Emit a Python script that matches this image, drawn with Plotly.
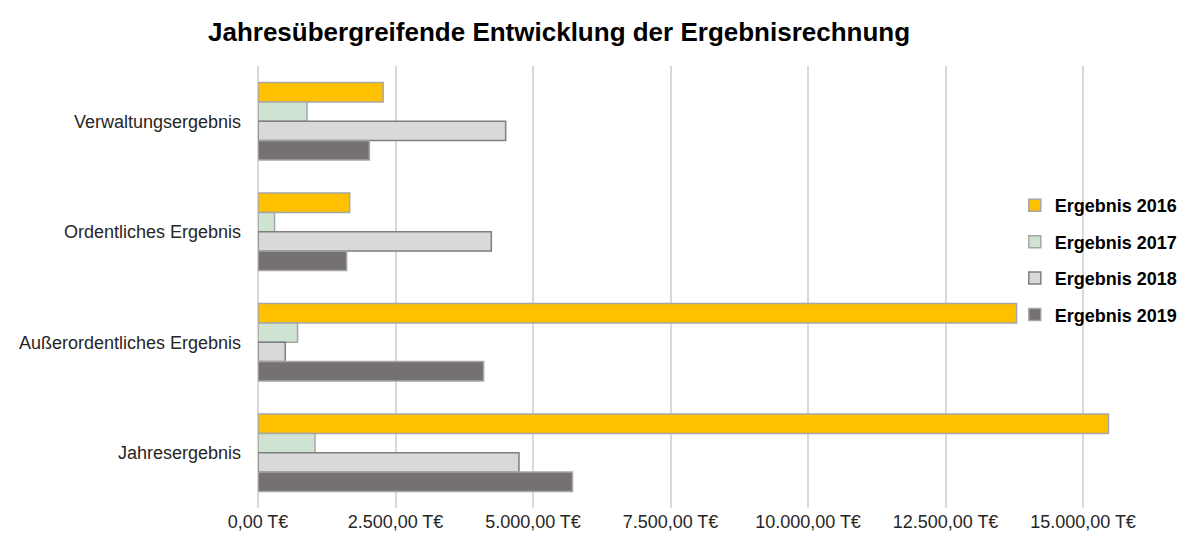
import plotly.graph_objects as go

categories = ["Verwaltungsergebnis", "Ordentliches Ergebnis", "Außerordentliches Ergebnis", "Jahresergebnis"]
series_names = ["Ergebnis 2016", "Ergebnis 2017", "Ergebnis 2018", "Ergebnis 2019"]
values_2016 = [2275, 1667, 13792, 15463]
values_2017 = [891, 301, 719, 1036]
values_2018 = [4503, 4242, 495, 4745]
values_2019 = [2025, 1612, 4102, 5718]
tick_values = [0, 2500, 5000, 7500, 10000, 12500, 15000]
tick_labels = ["0,00 T€", "2.500,00 T€", "5.000,00 T€", "7.500,00 T€", "10.000,00 T€", "12.500,00 T€", "15.000,00 T€"]

fill_colors = ["#FFC000", "#CFE3D3", "#D9D9D9", "#767171"]
line_colors = ["#A6A6A6", "#A6A6A6", "#7F7F7F", "#A6A6A6"]
all_values = [values_2016, values_2017, values_2018, values_2019]

FONT = "Liberation Sans, Arial, sans-serif"

fig = go.Figure()
for i, (name, vals) in enumerate(zip(series_names, all_values)):
    fig.add_trace(go.Bar(
        y=categories, x=vals, name=name, orientation="h",
        marker=dict(color=fill_colors[i], line=dict(color=line_colors[i], width=1.5)),
        legendgroup=name,
    ))

fig.update_layout(
    width=1181, height=532,
    margin=dict(l=250, r=51, t=58, b=32, autoexpand=False),
    paper_bgcolor="white", plot_bgcolor="white",
    barmode="group", bargap=0.3, bargroupgap=0,
    title=dict(text="<b>Jahresübergreifende Entwicklung der Ergebnisrechnung</b>",
               font=dict(family=FONT, size=26, color="#000000"),
               x=0.4666, xanchor="center", xref="container",
               y=0.955, yanchor="middle", yref="container"),
    font=dict(family=FONT, size=18, color="#262626"),
    legend=dict(x=0.86, xanchor="left", y=0.726, yanchor="top",
                xref="paper", yref="paper",
                font=dict(family=FONT, size=18, color="#000000", weight="bold"),
                tracegroupgap=10, bgcolor="rgba(0,0,0,0)",
                traceorder="grouped"),
    showlegend=True,
)
fig.update_xaxes(range=[0, 16000], tickvals=tick_values, ticktext=tick_labels,
                 showgrid=True, gridcolor="#D9D9D9", gridwidth=1.5,
                 zeroline=True, zerolinecolor="#D9D9D9", zerolinewidth=1.5,
                 showline=False, ticks="", automargin=False, ticklabelstandoff=1,
                 tickfont=dict(family=FONT, size=18, color="#262626"))
fig.update_yaxes(autorange="reversed", showgrid=False, showline=False, ticks="",
                 ticklabelstandoff=16, automargin=False,
                 tickfont=dict(family=FONT, size=18, color="#262626"))

fig.write_html("out.html")
